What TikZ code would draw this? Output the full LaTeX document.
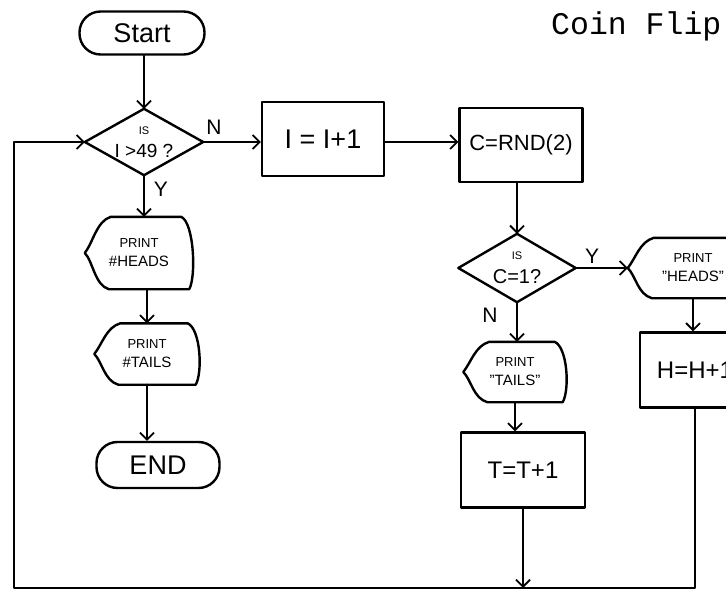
\documentclass[tikz,border=0pt]{standalone}
\usepackage{fontspec}
\setmainfont{Liberation Sans}[Ligatures=NoCommon]
\newfontfamily\monofont{Liberation Mono}
\usetikzlibrary{arrows.meta,calc}
\newcommand\dispdraw[1]{%
  \draw[ln] ($(#1.north west)+(26,0)$) -- ($(#1.north east)+(-12,0)$)
    .. controls ($(#1.north east)+(1,6)$) and ($(#1.south east)+(3,-12)$) .. ($(#1.south east)+(-4,0)$)
    -- ($(#1.south west)+(24,0)$)
    .. controls ($(#1.south west)+(10,-4)$) and ($(#1.west)+(8,8)$) .. (#1.west)
    .. controls ($(#1.west)+(8,-10)$) and ($(#1.north west)+(12,4)$) .. cycle;}
\newcommand\diadraw[1]{%
  \draw[ln] (#1.north) -- (#1.east) -- (#1.south) -- (#1.west) -- cycle;}
\newcommand\pl[2]{{\fontsize{13}{15}\selectfont #1}\\[7pt]{\fontsize{15}{17}\selectfont #2}}
\newcommand\dl[2]{{\fontsize{11}{13}\selectfont #1}\\[2pt]{#2}}
\newcommand\dq{\char34\relax}
\begin{document}
\begin{tikzpicture}[x=1pt,y=-1pt,
  ln/.style={line width=2.4pt,line join=round,line cap=round},
  arr/.style={ln,-{Straight Barb[length=7pt,width=14pt,line width=1.8pt]}},
  term/.style={draw,ln,rectangle,rounded corners=21pt,inner sep=0,align=center},
  dec/.style={rectangle,inner sep=0,align=center},
  proc/.style={draw,ln,rectangle,inner sep=0,align=center},
  disp/.style={rectangle,inner sep=0,align=center},
  big/.style={font=\fontsize{24}{26}\selectfont},
  lbl/.style={font=\fontsize{21}{21}\selectfont,inner sep=0}]
\useasboundingbox (0,0) rectangle (726,591);
\clip (0,0) rectangle (726,591);
\fill[white] (0,0) rectangle (726,591);

% title
\node[font=\monofont\fontsize{31.5}{32}\selectfont,anchor=base west,inner sep=0] (title) at (551,35) {Coin Flip};

% left column
\node[term,font=\fontsize{27}{28}\selectfont,minimum width=125pt,minimum height=43pt] (start) at (142,33) {Start};
\node[dec,minimum width=118pt,minimum height=66pt,font=\fontsize{19}{21}\selectfont] (d1) at (144,142)
  {\dl{IS}{I >49 ?}};
\diadraw{d1}
\node[disp,minimum width=108pt,minimum height=72pt] (lh) at (139,253) {\pl{PRINT}{\#HEADS}};
\dispdraw{lh}
\node[disp,minimum width=105pt,minimum height=61pt] (lt) at (147,354) {\pl{PRINT}{\#TAILS}};
\dispdraw{lt}
\node[term,font=\fontsize{27}{28}\selectfont,minimum width=123pt,minimum height=46pt] (en) at (158,465) {END};

% middle / right
\node[proc,font=\fontsize{27}{28}\selectfont,minimum width=122pt,minimum height=74pt] (b1) at (323,139) {I = I+1};
\node[proc,font=\fontsize{22}{24}\selectfont,minimum width=123pt,minimum height=74pt] (b2) at (521,145) {C=RND(2)};
\node[dec,minimum width=117pt,minimum height=68pt,font=\fontsize{20}{22}\selectfont] (d2) at (517,268)
  {\dl{IS}{C=1?}};
\diadraw{d2}
\node[disp,minimum width=130pt,minimum height=60pt] (ph) at (693,268) {\pl{PRINT}{\dq HEADS\dq}};
\dispdraw{ph}
\node[proc,big,minimum width=110pt,minimum height=75pt] (hb) at (695,370) {H=H+1};
\node[disp,minimum width=103pt,minimum height=60pt] (pt) at (515,372) {\pl{PRINT}{\dq TAILS\dq}};
\dispdraw{pt}
\node[proc,big,minimum width=124pt,minimum height=75pt] (tb) at (523,470) {T=T+1};

\coordinate (bl) at (14,588);

% labels
\node[lbl] (n1) at (214,127) {N};
\node[lbl] (y1) at (161,189) {Y};
\node[lbl] (y2) at (592,256) {Y};
\node[lbl] (n2) at (490,315) {N};

% connectors
\draw[arr] (d1.north |- start.south) -- (d1.north);
\draw[arr] (d1.east) -- (d1.east -| b1.west);
\draw[arr] ($(b1.east)+(0,3)$) -- ($(b1.east -| b2.west)+(0,3)$);
\draw[arr] (d2.north |- b2.south) -- (d2.north);
\draw[arr] (d2.east) -- (d2.east -| ph.west);
\draw[arr] (ph.south) -- (ph.south |- hb.north);
\draw[arr] (d2.south) -- (d2.south |- pt.north);
\draw[arr] (pt.south) -- (pt.south |- tb.north);
\draw[arr] (tb.south) -- (tb.south |- bl);
\draw[arr] (hb.south) -- (hb.south |- bl) -- (bl) -- (bl |- d1.west) -- (d1.west);
\draw[arr] (d1.south) -- (d1.south |- lh.north);
\draw[arr] (lt.north |- lh.south) -- (lt.north);
\draw[arr] (lt.south) -- (lt.south |- en.north);
\end{tikzpicture}
\end{document}
